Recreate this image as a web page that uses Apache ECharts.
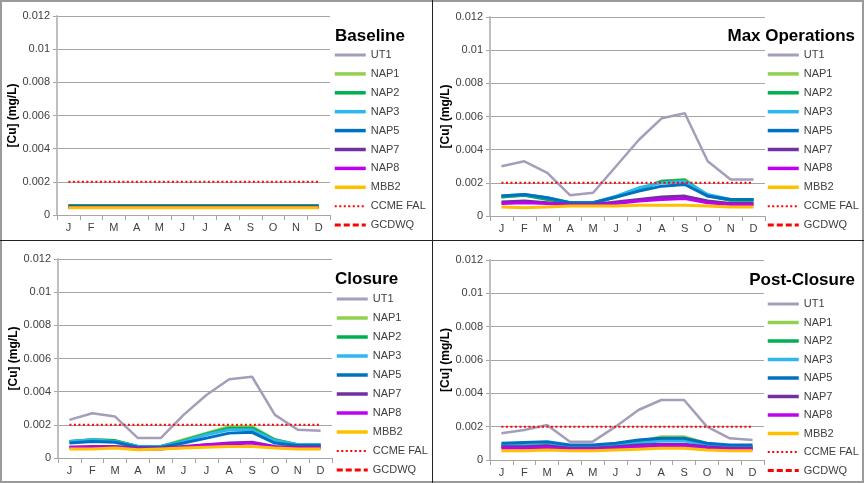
<!DOCTYPE html>
<html>
<head>
<meta charset="utf-8">
<script src="https://cdn.jsdelivr.net/npm/echarts@6/dist/echarts.min.js"></script>
<style>
html,body{margin:0;padding:0;background:#fff;}
#c{width:864px;height:483px;}
</style>
</head>
<body>
<div id="c"></div>
<script>
// ---- categories / labels ----
const months = ['J','F','M','A','M','J','J','A','S','O','N','D'];
const panelTitles = ['Baseline','Max Operations','Closure','Post-Closure'];
const seriesNames = ['UT1','NAP1','NAP2','NAP3','NAP5','NAP7','NAP8','MBB2','CCME FAL','GCDWQ'];
const yTicks = [0, 0.002, 0.004, 0.006, 0.008, 0.01, 0.012];
const yTitle = '[Cu] (mg/L)';

// ---- guideline values ----
const ccmeFAL = [0.002,0.002,0.002,0.002,0.002,0.002,0.002,0.002,0.002,0.002,0.002,0.002];
const gcdwq = [null,null,null,null,null,null,null,null,null,null,null,null];

// ---- Baseline ----
const baseUT1  = [0.0005,0.0005,0.0005,0.0005,0.0005,0.0005,0.0005,0.0005,0.0005,0.0005,0.0005,0.0005];
const baseNAP1 = [0.00055,0.00055,0.00055,0.00055,0.00055,0.00055,0.00055,0.00055,0.00055,0.00055,0.00055,0.00055];
const baseNAP2 = [0.00057,0.00057,0.00057,0.00057,0.00057,0.00057,0.00057,0.00057,0.00057,0.00057,0.00057,0.00057];
const baseNAP3 = [0.00052,0.00052,0.00052,0.00052,0.00052,0.00052,0.00052,0.00052,0.00052,0.00052,0.00052,0.00052];
const baseNAP5 = [0.00052,0.00052,0.00052,0.00052,0.00052,0.00052,0.00052,0.00052,0.00052,0.00052,0.00052,0.00052];
const baseNAP7 = [0.00046,0.00046,0.00046,0.00046,0.00046,0.00046,0.00046,0.00046,0.00046,0.00046,0.00046,0.00046];
const baseNAP8 = [0.00046,0.00046,0.00046,0.00046,0.00046,0.00046,0.00046,0.00046,0.00046,0.00046,0.00046,0.00046];
const baseMBB2 = [0.00043,0.00043,0.00043,0.00043,0.00043,0.00043,0.00043,0.00043,0.00043,0.00043,0.00043,0.00043];

// ---- Max Operations ----
const maxUT1  = [0.0030,0.0033,0.0026,0.00125,0.0014,0.0030,0.0046,0.0059,0.0062,0.0033,0.0022,0.0022];
const maxNAP1 = [0.00115,0.00125,0.00105,0.0008,0.0008,0.00115,0.0016,0.0021,0.0022,0.00125,0.00095,0.00095];
const maxNAP2 = [0.00115,0.00125,0.001,0.0008,0.0008,0.00115,0.00155,0.0021,0.00215,0.0012,0.00095,0.00095];
const maxNAP3 = [0.0012,0.0013,0.0011,0.0008,0.0008,0.0012,0.0017,0.002,0.0021,0.0013,0.001,0.001];
const maxNAP5 = [0.0012,0.0013,0.0011,0.0008,0.0008,0.00115,0.0015,0.0018,0.0019,0.0012,0.001,0.001];
const maxNAP7 = [0.00085,0.0009,0.0008,0.0007,0.0007,0.00085,0.001,0.00115,0.0012,0.0009,0.00075,0.00075];
const maxNAP8 = [0.00075,0.0008,0.00075,0.00065,0.00065,0.00075,0.0009,0.001,0.00105,0.0008,0.0007,0.0007];
const maxMBB2 = [0.00055,0.0005,0.00055,0.0006,0.0006,0.0006,0.00065,0.00065,0.00065,0.0006,0.00055,0.00055];

// ---- Closure ----
const cloUT1  = [0.0023,0.0027,0.0025,0.0012,0.0012,0.0026,0.0038,0.00475,0.0049,0.0026,0.0017,0.00165];
const cloNAP1 = [0.001,0.0011,0.00105,0.0007,0.0007,0.0011,0.0015,0.0019,0.0019,0.0011,0.0008,0.0008];
const cloNAP2 = [0.001,0.0011,0.00105,0.0007,0.0007,0.00105,0.00145,0.0018,0.0018,0.0011,0.0008,0.0008];
const cloNAP3 = [0.001,0.0011,0.001,0.0007,0.0007,0.001,0.0014,0.0017,0.0017,0.00105,0.0008,0.0008];
const cloNAP5 = [0.0009,0.001,0.00095,0.00065,0.00065,0.0009,0.0012,0.0015,0.00155,0.0009,0.00075,0.00075];
const cloNAP7 = [0.00065,0.0007,0.0007,0.0006,0.0006,0.0007,0.0008,0.0009,0.00095,0.0007,0.00065,0.00065];
const cloNAP8 = [0.00065,0.00065,0.00065,0.00055,0.00055,0.00065,0.0008,0.00085,0.0009,0.00065,0.0006,0.0006];
const cloMBB2 = [0.00055,0.00055,0.0006,0.0005,0.00055,0.0006,0.00065,0.0007,0.0007,0.0006,0.00055,0.00055];

// ---- Post-Closure ----
const postUT1  = [0.0016,0.0018,0.0021,0.0011,0.0011,0.002,0.003,0.0036,0.0036,0.002,0.0013,0.0012];
const postNAP1 = [0.0009,0.0009,0.00095,0.0008,0.0008,0.0009,0.0011,0.0014,0.0014,0.001,0.0008,0.0008];
const postNAP2 = [0.00085,0.00085,0.0009,0.00075,0.00075,0.00085,0.00105,0.0012,0.0012,0.00095,0.00075,0.00075];
const postNAP3 = [0.00085,0.00085,0.0009,0.00075,0.00075,0.00085,0.001,0.00115,0.00115,0.0009,0.00075,0.00075];
const postNAP5 = [0.001,0.00105,0.0011,0.0009,0.0009,0.001,0.0012,0.0013,0.0013,0.001,0.0009,0.0009];
const postNAP7 = [0.0008,0.0008,0.00085,0.0007,0.0007,0.0008,0.0009,0.00095,0.00095,0.0008,0.0007,0.0007];
const postNAP8 = [0.0007,0.0007,0.00075,0.00065,0.00065,0.0007,0.0008,0.00085,0.00085,0.0007,0.00065,0.00065];
const postMBB2 = [0.00055,0.00055,0.0006,0.00055,0.00055,0.0006,0.00065,0.0007,0.0007,0.0006,0.00055,0.00055];

const panelData = [
  [baseUT1, baseNAP1, baseNAP2, baseNAP3, baseNAP5, baseNAP7, baseNAP8, baseMBB2, ccmeFAL, gcdwq],
  [maxUT1, maxNAP1, maxNAP2, maxNAP3, maxNAP5, maxNAP7, maxNAP8, maxMBB2, ccmeFAL, gcdwq],
  [cloUT1, cloNAP1, cloNAP2, cloNAP3, cloNAP5, cloNAP7, cloNAP8, cloMBB2, ccmeFAL, gcdwq],
  [postUT1, postNAP1, postNAP2, postNAP3, postNAP5, postNAP7, postNAP8, postMBB2, ccmeFAL, gcdwq]
];

// ---- styles ----
const colors = ['#A59DBA','#92D050','#00B050','#2DB7EE','#0070C0','#7030A0','#C000F0','#FFC000','#FF0000','#FF0000'];
const widths = [2.5,3,3,3,3,3,3,3,2,3];
const types  = ['solid','solid','solid','solid','solid','solid','solid','solid',[2,2.5],[6,3]];
const FONT = '"Liberation Sans", Arial, sans-serif';

const grids = [
  {left:57, top:16, width:273, height:199},
  {left:490, top:17, width:275, height:199},
  {left:58, top:259, width:274, height:199},
  {left:490, top:260, width:274, height:200}
];
const titlePos = [
  {left:335, top:28},
  {right:9, top:28},
  {left:335, top:271},
  {right:9, top:272}
];
const legendPos = [
  {left:333, top:49.5, gap:7.9},
  {left:766, top:49.5, gap:7.9},
  {left:335, top:293.5, gap:8},
  {left:766, top:298.5, gap:7.5}
];

const option = {
  animation:false,
  backgroundColor:'#fff',
  textStyle:{fontFamily:FONT},
  title: panelTitles.map((t,i)=>Object.assign({
    text:t, padding:0,
    textStyle:{fontFamily:FONT, fontSize:17, fontWeight:'bold', color:'#000'}
  }, titlePos[i])),
  grid: grids.map(g=>Object.assign({containLabel:false}, g)),
  legend: legendPos.map((p,i)=>({
    orient:'vertical', left:p.left, top:p.top, padding:0,
    itemWidth:31, itemHeight:11, itemGap:p.gap,
    data: seriesNames.map((n,si)=>({name:n, lineStyle:{width:widths[si] + (si<8?0.5:0)}})),
    itemStyle:{opacity:0},
    textStyle:{fontFamily:FONT, fontSize:11, color:'#404040'},
    selectedMode:false
  })),
  xAxis: grids.map((g,i)=>({
    type:'category', gridIndex:i, data:months, boundaryGap:true,
    axisLine:{lineStyle:{color:'#a6a6a6', width:1}},
    axisTick:{show:true, length:5, lineStyle:{color:'#a6a6a6'}},
    axisLabel:{fontFamily:FONT, fontSize:11, color:'#404040', margin:7, interval:0}
  })),
  yAxis: grids.map((g,i)=>({
    type:'value', gridIndex:i, min:yTicks[0], max:yTicks[yTicks.length-1], interval:yTicks[1]-yTicks[0],
    name: yTitle, nameLocation:'middle', nameGap:33,
    nameTextStyle:{fontFamily:FONT, fontSize:12, fontWeight:'bold', color:'#000'},
    axisLine:{show:true, lineStyle:{color:'#bfbfbf', width:2}},
    axisTick:{show:true, length:4, lineStyle:{color:'#a6a6a6'}},
    splitLine:{show:true, lineStyle:{color:'#a6a6a6', width:1}},
    axisLabel:{fontFamily:FONT, fontSize:11, color:'#404040', margin:7,
      formatter:v=>String(parseFloat(v.toFixed(4)))}
  })),
  series: [],
  graphic: [
    {type:'rect', shape:{x:1, y:1, width:862, height:481}, style:{fill:'none', stroke:'#9a9a9a', lineWidth:2}, silent:true, z:100},
    {type:'line', shape:{x1:432.5, y1:0, x2:432.5, y2:483}, style:{stroke:'#222', lineWidth:1}, silent:true, z:100},
    {type:'line', shape:{x1:0, y1:240.5, x2:864, y2:240.5}, style:{stroke:'#222', lineWidth:1}, silent:true, z:100}
  ]
};

panelData.forEach((arrs,pi)=>{
  arrs.forEach((arr,si)=>{
    option.series.push({
      type:'line', name:seriesNames[si], xAxisIndex:pi, yAxisIndex:pi,
      data:arr, symbol:'none', smooth:false, clip:true,
      color:colors[si],
      lineStyle:{color:colors[si], width:widths[si], type:types[si]},
      emphasis:{disabled:true}
    });
  });
});

const chart = echarts.init(document.getElementById('c'), null, {renderer:'canvas'});
chart.setOption(option);
</script>
</body>
</html>
